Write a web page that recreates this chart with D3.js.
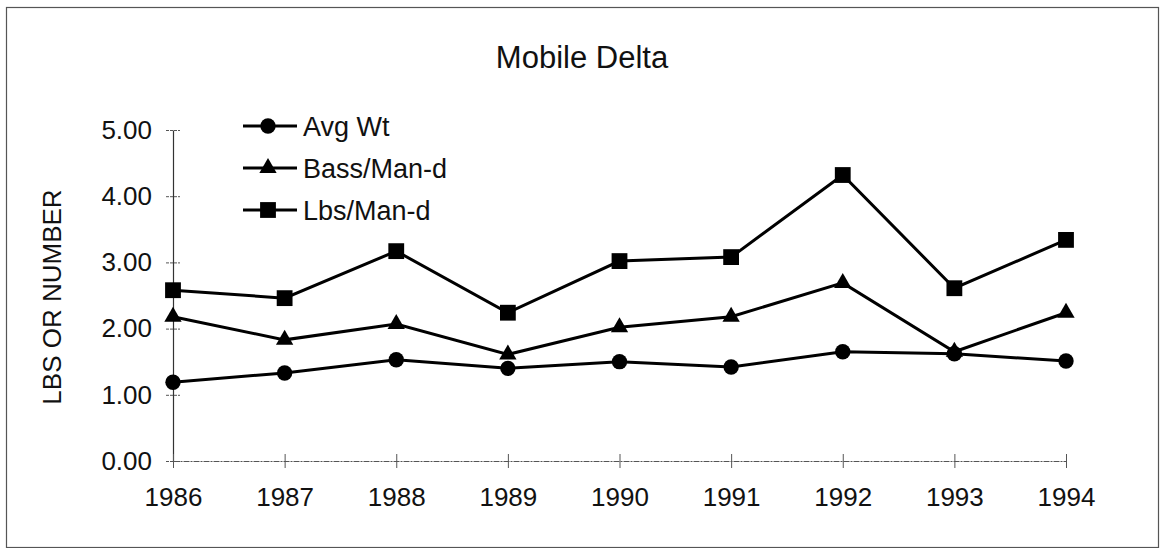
<!DOCTYPE html>
<html>
<head>
<meta charset="utf-8">
<script src="https://cdn.jsdelivr.net/npm/d3@7"></script>
<style>
  body { margin: 0; background: #fff; }
  svg text { font-family: Arial, "Liberation Sans", sans-serif; fill: #111; }
</style>
</head>
<body>
<div id="chart"></div>
<script>
var years = [1986, 1987, 1988, 1989, 1990, 1991, 1992, 1993, 1994];
var avgWt = [1.19, 1.33, 1.53, 1.40, 1.50, 1.42, 1.65, 1.62, 1.51];
var bassManD = [2.18, 1.83, 2.07, 1.61, 2.02, 2.18, 2.69, 1.65, 2.24];
var lbsManD = [2.58, 2.46, 3.17, 2.24, 3.02, 3.08, 4.32, 2.61, 3.34];
var yTicks = [0, 1, 2, 3, 4, 5];
var seriesNames = ["Avg Wt", "Bass/Man-d", "Lbs/Man-d"];
var seriesShapes = ["circle", "triangle", "square"];

var width = 1163, height = 548;
var svg = d3.select("#chart").append("svg")
    .attr("width", width)
    .attr("height", height);

// outer frame
svg.append("rect")
    .attr("x", 6.5).attr("y", 7.5)
    .attr("width", 1152).attr("height", 540)
    .attr("fill", "none")
    .attr("stroke", "#555")
    .attr("stroke-width", 1.2);

var x = d3.scaleLinear().domain([1986, 1994]).range([173, 1066]);
var y = d3.scaleLinear().domain([0, 5]).range([461, 130]);

// title
svg.append("text")
    .attr("x", 582).attr("y", 68)
    .attr("text-anchor", "middle")
    .style("font-size", "31px")
    .text("Mobile Delta");

// y axis label
svg.append("text")
    .attr("transform", "translate(61,297) rotate(-90)")
    .attr("text-anchor", "middle")
    .style("font-size", "26px")
    .text("LBS OR NUMBER");

// y axis
var yAxis = svg.append("g")
    .attr("transform", "translate(173,0)")
    .call(d3.axisLeft(y).tickValues(yTicks).tickFormat(d3.format(".2f")).tickSize(0).tickPadding(21));
yAxis.select(".domain").attr("stroke", "#333").attr("stroke-width", 1.2);
yAxis.selectAll("text").style("font-size", "26px").attr("fill", "#111");
yAxis.selectAll(".tick").append("line")
    .attr("x1", -7).attr("x2", 7)
    .attr("stroke", "#555").attr("stroke-dasharray", "3,1");

// x axis
var xAxis = svg.append("g")
    .attr("transform", "translate(0," + y(0) + ")")
    .call(d3.axisBottom(x).tickValues(years).tickFormat(d3.format("d")).tickSize(0).tickPadding(27));
xAxis.select(".domain").attr("stroke", "#555").attr("stroke-width", 1.2).attr("stroke-dasharray", "6,1,2,1");
xAxis.selectAll("text").style("font-size", "26px").attr("fill", "#111");
xAxis.selectAll(".tick").append("line")
    .attr("y1", -7).attr("y2", 7)
    .attr("stroke", "#555");

var symbolFor = {
  circle: d3.symbol().type(d3.symbolCircle).size(185),
  triangle: d3.symbol().type(d3.symbolTriangle).size(130),
  square: d3.symbol().type(d3.symbolSquare).size(250)
};

var line = d3.line()
    .x(function(d, i) { return x(years[i]); })
    .y(function(d) { return y(d); });

[avgWt, bassManD, lbsManD].forEach(function(vals, k) {
  svg.append("path")
      .datum(vals)
      .attr("d", line)
      .attr("fill", "none")
      .attr("stroke", "#000")
      .attr("stroke-width", 3);
  svg.selectAll(".m" + k)
      .data(vals)
      .enter()
      .append("path")
      .attr("class", "m" + k)
      .attr("d", symbolFor[seriesShapes[k]])
      .attr("transform", function(d, i) {
        return "translate(" + x(years[i]) + "," + y(d) + ")";
      })
      .attr("fill", "#000");
});

// legend
var legend = svg.selectAll(".legend")
    .data(seriesNames)
    .enter()
    .append("g")
    .attr("class", "legend")
    .attr("transform", function(d, i) { return "translate(243," + (126 + i * 42) + ")"; });

legend.append("line")
    .attr("x1", 0).attr("x2", 54)
    .attr("stroke", "#000").attr("stroke-width", 3);
legend.append("path")
    .attr("d", function(d, i) { return symbolFor[seriesShapes[i]](); })
    .attr("transform", "translate(25,0)")
    .attr("fill", "#000");
legend.append("text")
    .attr("x", 60).attr("dy", "0.36em")
    .style("font-size", "27px")
    .text(function(d) { return d; });
</script>
</body>
</html>
